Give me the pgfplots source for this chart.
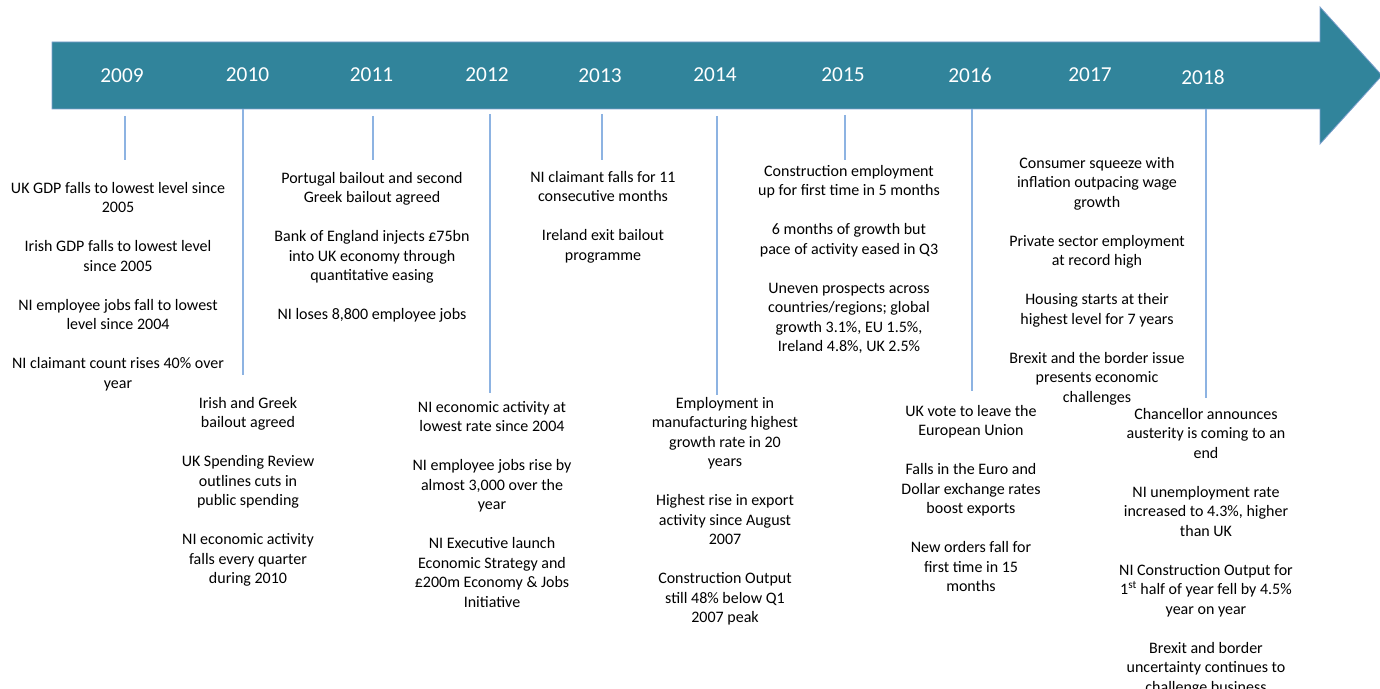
\documentclass[border=0pt]{standalone}
\usepackage{fontspec}
\setmainfont{Carlito}
\usepackage{pgfplots}
\pgfplotsset{compat=1.18}

\definecolor{arrowfill}{RGB}{49,132,155}
\definecolor{arrowedge}{RGB}{125,160,205}
\definecolor{stem}{RGB}{141,179,226}

% year label positions (x, y in pixels of the reference, y downwards)
\pgfplotstableread{
x      y     year
122    76    2009
247.5  75    2010
371.5  75    2011
487    75    2012
600    76    2013
715    75    2014
843    75    2015
970    75    2016
1090   75    2017
1203   77    2018
}\yeartable

\newcommand{\gap}{\\[19.5bp]}
\tikzset{blk/.style={font=\fontsize{16bp}{19.5bp}\selectfont,
    align=center, anchor=north, inner sep=0pt}}

\begin{document}
\begin{tikzpicture}
  \begin{axis}[
      scale only axis,
      width=1380bp, height=689bp,
      xmin=0, xmax=1380,
      ymin=0, ymax=689,
      y dir=reverse,
      axis lines=none,
      clip=true,
      unbounded coords=jump,
    ]
    % timeline arrow
    \addplot[fill=arrowfill, draw=arrowedge, line width=0.8bp]
      coordinates {(52,42) (1320,42) (1320,7) (1382,75.5)
                   (1320,144) (1320,109) (52,109)} -- cycle;

    % stems from the arrow to the text blocks
    \addplot[stem, line width=1.2bp] coordinates {
      (125,116) (125,160) (nan,nan)
      (243,109) (243,375) (nan,nan)
      (373,116) (373,160) (nan,nan)
      (490,114) (490,393) (nan,nan)
      (602,114) (602,160) (nan,nan)
      (717,116) (717,395) (nan,nan)
      (845,115) (845,160) (nan,nan)
      (972,109) (972,391) (nan,nan)
      (1206,109) (1206,398)
    };

    % years
    \addplot[only marks, mark=none, white,
      nodes near coords, point meta=explicit symbolic,
      every node near coord/.style={anchor=center, white,
        font=\fontsize{21.3bp}{24bp}\selectfont}]
      table[x=x, y=y, meta=year] {\yeartable};

    % event text
    \node[blk] at (axis cs:118,182) {UK GDP falls to lowest level since\\2005\gap
      Irish GDP falls to lowest level\\since 2005\gap
      NI employee jobs fall to lowest\\level since 2004\gap
      NI claimant count rises 40\% over\\year};
    \node[blk] at (axis cs:248,397) {Irish and Greek\\bailout agreed\gap
      UK Spending Review\\outlines cuts in\\public spending\gap
      NI economic activity\\falls every quarter\\during 2010};
    \node[blk] at (axis cs:372,172) {Portugal bailout and second\\Greek bailout agreed\gap
      Bank of England injects £75bn\\into UK economy through\\quantitative easing\gap
      NI loses 8,800 employee jobs};
    \node[blk] at (axis cs:492,401) {NI economic activity at\\lowest rate since 2004\gap
      NI employee jobs rise by\\almost 3,000 over the\\year\gap
      NI Executive launch\\Economic Strategy and\\£200m Economy \& Jobs\\Initiative};
    \node[blk] at (axis cs:603,171) {NI claimant falls for 11\\consecutive months\gap
      Ireland exit bailout\\programme};
    \node[blk] at (axis cs:725,397) {Employment in\\manufacturing highest\\growth rate in 20\\years\gap
      Highest rise in export\\activity since August\\2007\gap
      Construction Output\\still 48\% below Q1\\2007 peak};
    \node[blk] at (axis cs:849,165) {Construction employment\\up for first time in 5 months\gap
      6 months of growth but\\pace of activity eased in Q3\gap
      Uneven prospects across\\countries/regions; global\\growth 3.1\%, EU 1.5\%,\\Ireland 4.8\%, UK 2.5\%};
    \node[blk] at (axis cs:971,405) {UK vote to leave the\\European Union\gap
      Falls in the Euro and\\Dollar exchange rates\\boost exports\gap
      New orders fall for\\first time in 15\\months};
    \node[blk] at (axis cs:1097,157) {Consumer squeeze with\\inflation outpacing wage\\growth\gap
      Private sector employment\\at record high\gap
      Housing starts at their\\highest level for 7 years\gap
      Brexit and the border issue\\presents economic\\challenges};
    \node[blk] at (axis cs:1206,408) {Chancellor announces\\austerity is coming to an\\end\gap
      NI unemployment rate\\increased to 4.3\%, higher\\than UK\gap
      NI Construction Output for\\1\textsuperscript{st} half of year fell by 4.5\%\\year on year\gap
      Brexit and border\\uncertainty continues to\\challenge business};
  \end{axis}
  \pgfresetboundingbox
  \path (current axis.south west) rectangle (current axis.north east);
\end{tikzpicture}
\end{document}
